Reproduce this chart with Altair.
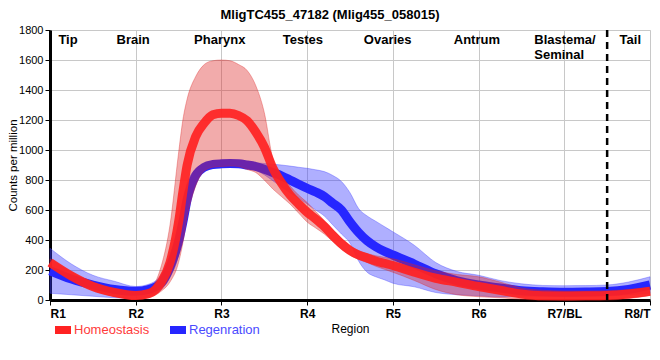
import altair as alt
import pandas as pd

# ---- data ----
u = [0, 0.25, 0.5, 0.75, 1.0, 1.15, 1.3, 1.4, 1.5, 1.55, 1.6, 1.7, 1.8, 1.9, 2.0, 2.1,
     2.2, 2.3, 2.4, 2.5, 2.6, 2.7, 2.8, 2.9, 3.0, 3.1, 3.2, 3.3, 3.4, 3.5, 3.6, 3.7,
     3.8, 3.9, 4.0, 4.25, 4.5, 4.75, 5.0, 5.25, 5.5, 5.75, 6.0, 6.25, 6.5, 6.75, 7.0]

homeo_mean = [250, 160, 90, 50, 30, 42, 120, 250, 520, 720, 900, 1090, 1180, 1235, 1245, 1245,
              1230, 1195, 1120, 1020, 880, 780, 700, 640, 585, 540, 490, 430, 375, 330, 300, 280,
              260, 245, 230, 185, 145, 118, 90, 65, 40, 28, 27, 28, 30, 40, 58]
homeo_hi = [275, 185, 115, 75, 55, 70, 230, 500, 980, 1200, 1340, 1490, 1570, 1595, 1600, 1595,
            1570, 1530, 1430, 1250, 940, 830, 760, 700, 650, 590, 530, 470, 410, 360, 330, 310,
            295, 285, 275, 235, 195, 170, 155, 120, 80, 65, 60, 60, 62, 70, 85]
homeo_lo = [225, 135, 65, 25, 5, 15, 60, 120, 250, 380, 550, 760, 860, 885, 890, 893,
            890, 870, 850, 800, 740, 690, 640, 580, 520, 480, 440, 390, 340, 300, 270, 250,
            225, 205, 185, 130, 70, 35, 22, 15, 5, 0, 0, 0, 0, 10, 30]

regen_mean = [195, 140, 100, 70, 58, 70, 115, 220, 390, 520, 670, 830, 885, 903, 908, 910,
              908, 900, 890, 872, 850, 828, 800, 772, 745, 720, 690, 645, 600, 520, 450, 395,
              355, 325, 300, 240, 175, 128, 100, 80, 62, 55, 52, 53, 56, 70, 100]
regen_hi = [345, 240, 165, 125, 90, 105, 170, 300, 500, 640, 780, 870, 905, 920, 925, 927,
            925, 920, 915, 910, 905, 900, 893, 885, 878, 868, 856, 830, 790, 715, 610, 560,
            525, 490, 455, 365, 250, 190, 165, 130, 108, 97, 95, 96, 100, 120, 155]
regen_lo = [45, 35, 25, 15, 12, 25, 70, 150, 300, 450, 620, 790, 865, 886, 890, 893,
            890, 880, 865, 835, 795, 755, 715, 680, 640, 600, 560, 500, 440, 380, 260, 185,
            155, 135, 112, 88, 50, 35, 28, 20, 25, 25, 25, 26, 28, 35, 45]

tick_labels = ["R1", "R2", "R3", "R4", "R5", "R6", "R7/BL", "R8/T"]
series_names = ["Homeostasis", "Regenration"]
series_colors = ["#ff2222", "#2626ff"]
legend_text_colors = ["#ff3b3b", "#4a4aff"]

region_names = ["Tip", "Brain", "Pharynx", "Testes", "Ovaries", "Antrum", "Tail"]
region_pos = [0.21, 0.97, 1.98, 2.95, 3.94, 4.98, 6.77]
region_val = [1733] * 7
blastema_text = "Blastema/\nSeminal"
blastema_pos = [5.65]
blastema_val = [1733]
boundary_pos = [6.5]

FONT = "Liberation Sans"

homeo = pd.DataFrame({"u": u, "mean": homeo_mean, "lo": homeo_lo, "hi": homeo_hi})
regen = pd.DataFrame({"u": u, "mean": regen_mean, "lo": regen_lo, "hi": regen_hi})

label_expr = "[" + ",".join("'%s'" % t for t in tick_labels) + "][datum.value]"

xscale = alt.Scale(domain=[0, 7], nice=False, zero=False)
yscale = alt.Scale(domain=[0, 1800], nice=False)

x_axis = alt.Axis(values=list(range(8)), labelExpr=label_expr, grid=True, gridColor="#c8c8c8",
                  domainColor="black", domainWidth=3, tickColor="black", tickSize=5, tickWidth=1,
                  labelFont=FONT, labelFontSize=12, labelFontWeight="bold", labelColor="black",
                  labelPadding=3, title="Region", titleFont=FONT, titleFontSize=12,
                  titleFontWeight="normal", titleColor="black", titlePadding=4)
y_axis = alt.Axis(values=list(range(0, 1801, 200)), format="d", grid=True, gridColor="#c8c8c8",
                  domainColor="black", domainWidth=3, tickColor="black", tickSize=5, tickWidth=1,
                  labelFont=FONT, labelFontSize=11, labelColor="black", labelPadding=2,
                  title="Counts per million", titleFont=FONT, titleFontSize=11.5,
                  titleFontWeight="normal", titleColor="black",
                  titleX=-37, titleY=135, titleAngle=270, titleBaseline="middle",
                  titleAlign="center")


def band(df, color, op):
    return alt.Chart(df).mark_area(interpolate="monotone", color=color, fillOpacity=op,
                                   stroke=color, strokeWidth=1, strokeOpacity=0.35).encode(
        x=alt.X("u:Q", scale=xscale, axis=x_axis),
        y=alt.Y("lo:Q", scale=yscale, axis=y_axis),
        y2="hi:Q")


def line(df, color, op):
    return alt.Chart(df).mark_line(interpolate="monotone", color=color, strokeWidth=9,
                                   opacity=op).encode(
        x=alt.X("u:Q", scale=xscale, axis=x_axis),
        y=alt.Y("mean:Q", scale=yscale, axis=y_axis))


regen_band = band(regen, "#3838ff", 0.4)
regen_line = line(regen, series_colors[1], 1.0)
homeo_band = band(homeo, "#dd2222", 0.38)
homeo_line = line(homeo, series_colors[0], 0.92)

rule = alt.Chart(pd.DataFrame({"u": boundary_pos})).mark_rule(
    color="black", strokeWidth=2.5, strokeDash=[7, 5]).encode(
    x=alt.X("u:Q", scale=xscale, axis=x_axis))

regions = alt.Chart(pd.DataFrame({"u": region_pos, "v": region_val, "t": region_names})).mark_text(
    font=FONT, fontSize=13, fontWeight="bold", color="black", align="center", baseline="middle").encode(
    x=alt.X("u:Q", scale=xscale, axis=x_axis),
    y=alt.Y("v:Q", scale=yscale, axis=y_axis),
    text="t:N")

blastema = alt.Chart(pd.DataFrame({"u": blastema_pos, "v": blastema_val, "t": [blastema_text]})).mark_text(
    font=FONT, fontSize=13, fontWeight="bold", color="black", align="left", baseline="middle",
    lineBreak="\n", lineHeight=15).encode(
    x=alt.X("u:Q", scale=xscale, axis=x_axis),
    y=alt.Y("v:Q", scale=yscale, axis=y_axis),
    text="t:N")

# legend (drawn beneath the plot, left of the axis title)
leg_layers = []
leg_x = [5, 120]
for i, name in enumerate(series_names):
    leg_layers.append(alt.Chart(pd.DataFrame({"t": [name]})).mark_rect(color=series_colors[i]).encode(
        x=alt.value(leg_x[i]), x2=alt.value(leg_x[i] + 16), y=alt.value(296), y2=alt.value(304)))
    leg_layers.append(alt.Chart(pd.DataFrame({"t": [name]})).mark_text(
        font=FONT, fontSize=13, color=legend_text_colors[i], align="left", baseline="middle").encode(
        x=alt.value(leg_x[i] + 19), y=alt.value(300), text="t:N"))

chart = alt.layer(regen_band, regen_line, homeo_band, homeo_line, rule, regions, blastema,
                  *leg_layers).properties(
    width=600, height=270,
    title=alt.TitleParams("MligTC455_47182 (Mlig455_058015)", font=FONT, fontSize=13,
                          fontWeight="bold", color="black", anchor="middle", dx=-20, offset=2),
    autosize=alt.AutoSizeParams(type="none"),
    padding={"left": 42, "top": 22, "right": 2, "bottom": 44},
).configure_view(stroke="black", strokeWidth=1.5).configure(background="white")

chart.save("out.html", embed_options={"renderer": "svg", "actions": False})
